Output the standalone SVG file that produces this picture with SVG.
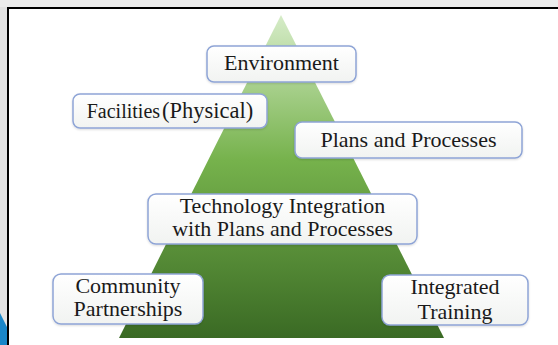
<svg xmlns="http://www.w3.org/2000/svg" width="558" height="345" viewBox="0 0 558 345">
<defs>
<linearGradient id="tri" x1="0" y1="15" x2="0" y2="338" gradientUnits="userSpaceOnUse">
<stop offset="0" stop-color="#d6ecc8"/>
<stop offset="0.45" stop-color="#76b24c"/>
<stop offset="1" stop-color="#3a6a24"/>
</linearGradient>
<linearGradient id="boxg" x1="0" y1="0" x2="0" y2="1">
<stop offset="0" stop-color="#ffffff"/>
<stop offset="1" stop-color="#f1f3f1"/>
</linearGradient>
<filter id="sh" x="-10%" y="-20%" width="120%" height="150%">
<feDropShadow dx="0" dy="1" stdDeviation="1" flood-color="#000" flood-opacity="0.15"/>
</filter>
</defs>
<style>
.box{fill:url(#boxg);stroke:#8ea4d6;stroke-width:1.5;filter:url(#sh)}
.t{font-family:"Liberation Serif","Times New Roman",serif;font-size:22px;fill:#1a1a1a;text-anchor:middle}
</style>
<rect x="0" y="0" width="558" height="345" fill="#e2e2e2"/>
<rect x="0" y="0" width="558" height="7" fill="#ececec"/>
<rect x="9" y="8" width="549" height="337" fill="#ffffff"/>
<path d="M8,345 V8 H558" fill="none" stroke="#000" stroke-width="2"/>
<polygon points="0,313 7,327 7,345 0,345" fill="#1a86c8"/>
<polygon id="pyramid" points="281,15 444,338 119,338" fill="url(#tri)"/>
<g id="connectors"></g>
<g id="environment">
<rect class="box" x="207" y="46" width="149" height="36" rx="7"/>
<text class="t" x="281.5" y="70">Environment</text>
</g>
<g id="facilities">
<rect class="box" x="73" y="94" width="194" height="34" rx="7"/>
<text class="t" x="170" y="118"><tspan font-size="20px">Facilities</tspan><tspan dx="2" font-size="22.5px">(Physical)</tspan></text>
</g>
<g id="plans">
<rect class="box" x="295" y="122" width="227" height="36" rx="7"/>
<text class="t" x="408.5" y="147">Plans and Processes</text>
</g>
<g id="technology">
<rect class="box" x="148" y="194" width="269" height="50" rx="8"/>
<text class="t" x="282.5" y="213">Technology Integration</text>
<text class="t" x="282.5" y="236">with Plans and Processes</text>
</g>
<g id="community">
<rect class="box" x="53" y="274" width="150" height="50" rx="8"/>
<text class="t" x="128" y="293">Community</text>
<text class="t" x="128" y="316">Partnerships</text>
</g>
<g id="training">
<rect class="box" x="382" y="275" width="146" height="50" rx="8"/>
<text class="t" x="455" y="294">Integrated</text>
<text class="t" x="455" y="319">Training</text>
</g>
</svg>
